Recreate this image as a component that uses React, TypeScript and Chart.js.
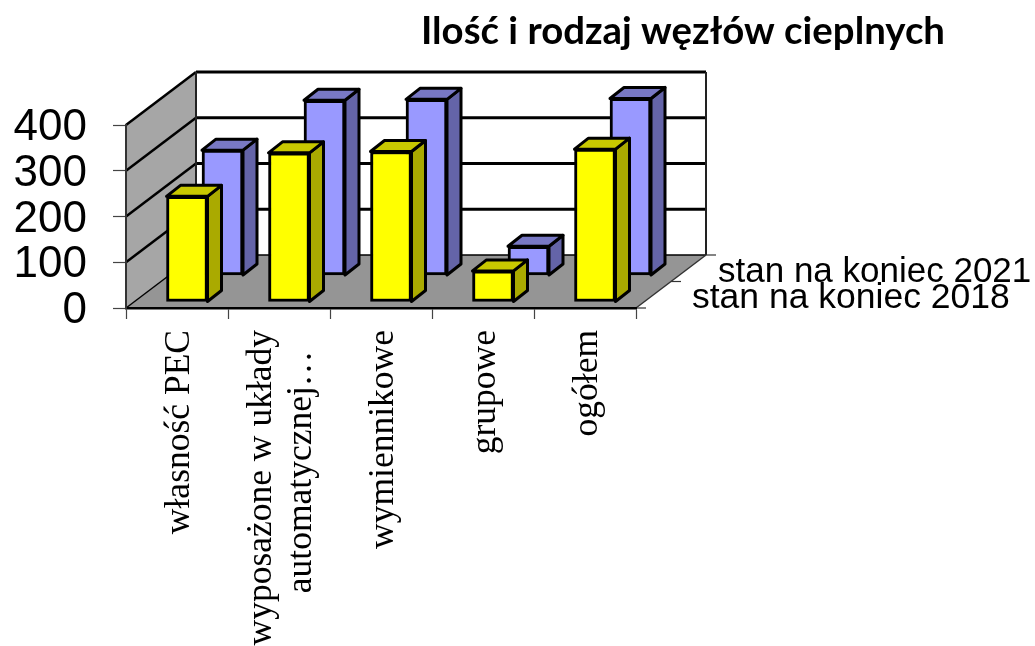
import React, { useEffect, useRef } from "react";
import { Chart, registerables } from "chart.js";

Chart.register(...registerables);

const TITLE = "Ilość i rodzaj węzłów cieplnych";
const CATEGORIES: (string | string[])[] = [
  "własność PEC",
  ["wyposażone w układy", "automatycznej…\u00a0\u00a0\u200a"],
  "wymiennikowe",
  "grupowe",
  "ogółem",
];
const SERIES_2018_NAME = "stan na koniec 2018";
const SERIES_2021_NAME = "stan na koniec 2021";
const VALUES_2018 = [231, 326, 329, 68, 334];
const VALUES_2021 = [274, 383, 385, 64, 387];

// Oblique projection of the chart's depth axis, in pixels
const BACK_DX = 70;
const BACK_DY = -53;
const BAR_DX = 14;
const BAR_DY = -11;
const ROW_OFFSETS = [
  { dx: 10, dy: -6 },
  { dx: 45.5, dy: -32.5 },
];
const SIDE_COLORS = ["#aaaa00", "#6464a8"];
const TOP_COLORS = ["#c8c800", "#7878c4"];
const SERIES_LABEL_POS = [
  { x: 692, y: 308, size: 35.5 },
  { x: 718, y: 282, size: 35 },
];

const poly = (ctx: CanvasRenderingContext2D, pts: number[][], fill?: string, stroke?: string, lw = 2) => {
  ctx.beginPath();
  pts.forEach(([x, y], i) => (i ? ctx.lineTo(x, y) : ctx.moveTo(x, y)));
  ctx.closePath();
  if (fill) {
    ctx.fillStyle = fill;
    ctx.fill();
  }
  if (stroke) {
    ctx.strokeStyle = stroke;
    ctx.lineWidth = lw;
    ctx.lineJoin = "round";
    ctx.stroke();
  }
};

const line = (ctx: CanvasRenderingContext2D, x1: number, y1: number, x2: number, y2: number, color: string, lw: number) => {
  ctx.beginPath();
  ctx.moveTo(x1, y1);
  ctx.lineTo(x2, y2);
  ctx.strokeStyle = color;
  ctx.lineWidth = lw;
  ctx.stroke();
};

const box3d = {
  id: "box3d",
  afterLayout(chart: any) {
    const t = chart.titleBlock;
    if (t) {
      const h = t.bottom - t.top;
      t.left = 421;
      t.right = 945;
      t.top = 8;
      t.bottom = 8 + h;
    }
    // centre multi-line rotated labels on their tick
    chart.scales.x.getLabelItems().forEach((item: any) => {
      if (Array.isArray(item.label)) {
        item.textOffset -= ((item.label.length - 1) * item.font.lineHeight) / 2;
      }
    });
    // nudge value labels to sit level with their ticks
    chart.scales.y.getLabelItems().forEach((item: any) => {
      item.textOffset += 3;
    });
  },
  afterDatasetsUpdate(chart: any) {
    chart.data.datasets.forEach((_: any, i: number) => {
      const { dx, dy } = ROW_OFFSETS[i];
      chart.getDatasetMeta(i).data.forEach((el: any) => {
        el.x += dx;
        el.y += dy;
        el.base += dy;
      });
    });
  },
  beforeDraw(chart: any) {
    const ctx: CanvasRenderingContext2D = chart.ctx;
    const { left, right, top, bottom } = chart.chartArea;
    const y = chart.scales.y;
    ctx.save();
    // back wall
    poly(ctx, [
      [left + BACK_DX, top + BACK_DY],
      [right + BACK_DX, top + BACK_DY],
      [right + BACK_DX, bottom + BACK_DY],
      [left + BACK_DX, bottom + BACK_DY],
    ], "#ffffff");
    // side wall
    poly(ctx, [
      [left, top],
      [left + BACK_DX, top + BACK_DY],
      [left + BACK_DX, bottom + BACK_DY],
      [left, bottom],
    ], "#a6a6a6");
    // floor
    poly(ctx, [
      [left, bottom],
      [right, bottom],
      [right + BACK_DX, bottom + BACK_DY],
      [left + BACK_DX, bottom + BACK_DY],
    ], "#959595");
    // gridlines on both walls
    y.ticks.forEach((tick: any) => {
      const py = y.getPixelForValue(tick.value);
      const isFloor = tick.value === 0;
      line(ctx, left, py, left + BACK_DX, py + BACK_DY, "#000", isFloor ? 1.5 : 2.5);
      line(ctx, left + BACK_DX, py + BACK_DY, right + BACK_DX, py + BACK_DY, "#000", isFloor ? 1.5 : 3);
    });
    line(ctx, left + BACK_DX, top + BACK_DY, left + BACK_DX, bottom + BACK_DY, "#222", 2);
    line(ctx, right + BACK_DX, top + BACK_DY, right + BACK_DX, bottom + BACK_DY, "#222", 2);
    line(ctx, right, bottom, right + BACK_DX, bottom + BACK_DY, "#333", 1.5);
    // depth-axis ticks
    [0, 0.5, 1].forEach((f) => {
      const x0 = right + BACK_DX * f;
      const y0 = bottom + BACK_DY * f;
      line(ctx, x0, y0, x0 + 10, y0, "#333", 1.2);
    });
    ctx.restore();
  },
  beforeDatasetDraw(chart: any, args: any) {
    const ctx: CanvasRenderingContext2D = chart.ctx;
    const i = args.index;
    ctx.save();
    chart.getDatasetMeta(i).data.forEach((el: any) => {
      const l = el.x - el.width / 2;
      const r = el.x + el.width / 2;
      poly(ctx, [
        [r, el.y],
        [r + BAR_DX, el.y + BAR_DY],
        [r + BAR_DX, el.base + BAR_DY],
        [r, el.base],
      ], SIDE_COLORS[i], "#000", 3);
      poly(ctx, [
        [l, el.y],
        [l + BAR_DX, el.y + BAR_DY],
        [r + BAR_DX, el.y + BAR_DY],
        [r, el.y],
      ], TOP_COLORS[i], "#000", 3);
    });
    ctx.restore();
  },
  afterDraw(chart: any) {
    const ctx: CanvasRenderingContext2D = chart.ctx;
    ctx.save();
    ctx.fillStyle = "#000";
    ctx.textAlign = "left";
    ctx.textBaseline = "alphabetic";
    chart.data.datasets.forEach((d: any, i: number) => {
      const p = SERIES_LABEL_POS[i];
      ctx.font = `${p.size}px 'Liberation Sans'`;
      ctx.fillText(d.label, p.x, p.y);
    });
    ctx.restore();
  },
};

export default function App() {
  const ref = useRef<HTMLCanvasElement>(null);
  useEffect(() => {
    document.body.style.margin = "0";
    const chart = new Chart(ref.current!, {
      type: "bar",
      data: {
        labels: CATEGORIES as any,
        datasets: [
          {
            label: SERIES_2018_NAME,
            data: VALUES_2018,
            backgroundColor: "#ffff00",
            borderColor: "#000",
            borderWidth: 3,
            borderSkipped: false,
            barThickness: 41,
            grouped: false,
            clip: false,
          } as any,
          {
            label: SERIES_2021_NAME,
            data: VALUES_2021,
            backgroundColor: "#9999ff",
            borderColor: "#000",
            borderWidth: 3,
            borderSkipped: false,
            barThickness: 41,
            grouped: false,
            clip: false,
          } as any,
        ],
      },
      options: {
        responsive: false,
        animation: false,
        layout: { padding: { top: 78.8, left: 0, right: 399, bottom: 0 } },
        plugins: {
          legend: { display: false },
          tooltip: { enabled: false },
          title: {
            display: true,
            text: TITLE,
            color: "#000",
            padding: 0,
            font: { family: "Lato", weight: "bold", size: 38.5, lineHeight: 1.2 },
          },
        },
        scales: {
          x: {
            type: "category",
            offset: true,
            afterFit: (s: any) => {
              s.height = 338;
            },
            grid: {
              offset: true,
              drawOnChartArea: false,
              drawTicks: true,
              tickLength: 11,
              tickColor: "#444",
              tickWidth: 1.2,
            },
            border: { display: true, color: "#000", width: 2.5 },
            ticks: {
              autoSkip: false,
              minRotation: 90,
              maxRotation: 90,
              padding: 11,
              color: "#000",
              labelOffset: 3,
              font: { family: "Liberation Serif", size: 35.5, lineHeight: 1.126 },
            },
          },
          y: {
            min: 0,
            max: 400,
            afterFit: (s: any) => {
              s.width = 126;
            },
            grid: {
              drawOnChartArea: false,
              drawTicks: true,
              tickLength: 13,
              tickColor: "#444",
              tickWidth: 1.2,
            },
            border: { display: true, color: "#333", width: 2 },
            ticks: {
              autoSkip: false,
              stepSize: 100,
              padding: 26,
              color: "#000",
              font: { family: "Liberation Sans", size: 44 },
            },
          },
        },
      } as any,
      plugins: [box3d as any],
    });
    return () => chart.destroy();
  }, []);
  return <canvas ref={ref} width={1035} height={646} style={{ display: "block" }} />;
}
